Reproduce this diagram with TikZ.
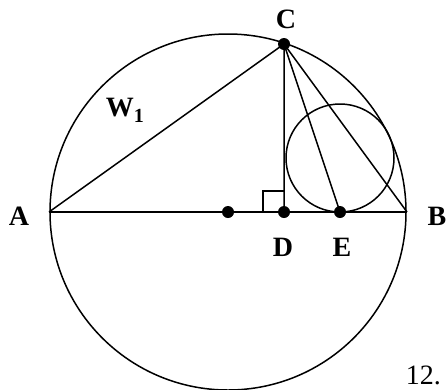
\documentclass[tikz,border=0pt]{standalone}
\usepackage{fontspec}
\setmainfont{Liberation Serif}
\begin{document}
\begin{tikzpicture}[x=1pt,y=-1pt,line width=1.5pt,
  lbl/.style={font=\fontsize{28}{30}\selectfont\bfseries,inner sep=0pt},
  dot/.style={circle,fill=black,inner sep=0pt,minimum size=12pt}]
\useasboundingbox (0,0) rectangle (446,389);
\coordinate (O) at (228,212);
\coordinate (A) at (49,212);
\coordinate (B) at (407,212);
\coordinate (C) at (284,44);
\coordinate (D) at (284,212);
\coordinate (E) at (340,212);
\coordinate (K) at (340,158);
\draw (O) circle (178);
\draw (K) circle (54);
\draw (A) -- (B);
\draw (A) -- (C) -- (D);
\draw (C) -- (E);
\draw (C) -- (B);
\draw (263,212) -- (263,191) -- (284,191);
\node[dot] (dO) at (O) {};
\node[dot] (dC) at (C) {};
\node[dot] (dD) at (D) {};
\node[dot] (dE) at (E) {};
\node[lbl] (lC) at (286,19) {C};
\node[lbl] (lA) at (19,216) {A};
\node[lbl] (lB) at (437,216) {B};
\node[lbl] (lD) at (283,247) {D};
\node[lbl] (lE) at (342,247) {E};
\node[lbl,anchor=base west] (lW) at (105,116) {W\raisebox{-6pt}{\fontsize{20}{22}\selectfont\bfseries 1}};
\node[font=\fontsize{28}{30}\selectfont,inner sep=0pt,anchor=base west] (n12) at (405,384) {12.};
\end{tikzpicture}
\end{document}
